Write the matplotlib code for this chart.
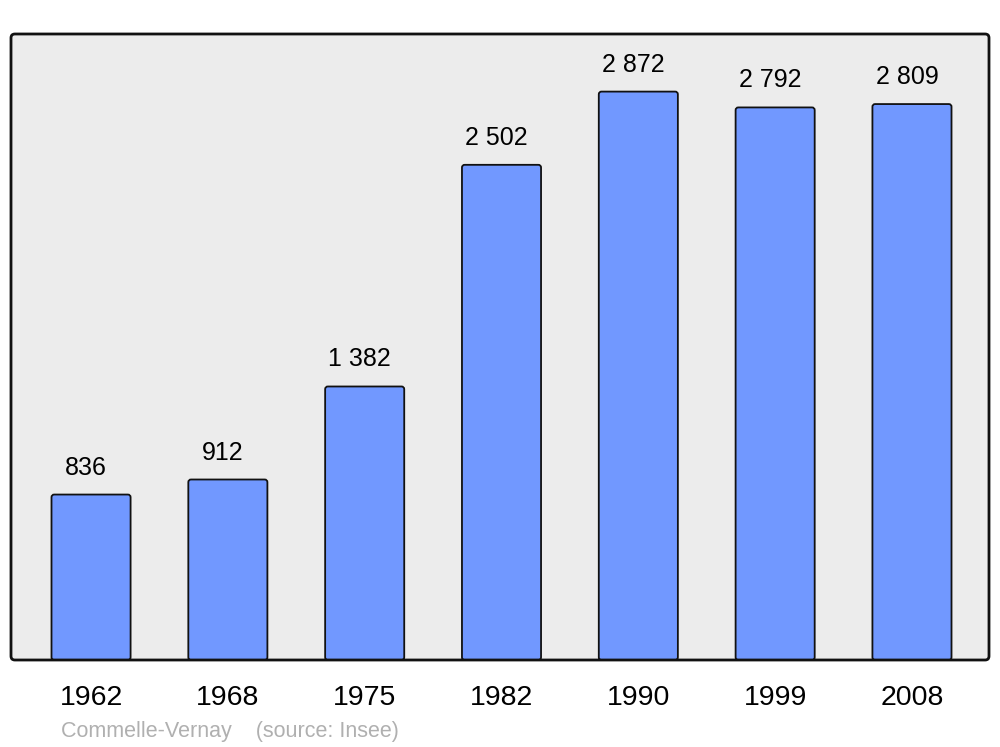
import matplotlib
matplotlib.use("Agg")
import matplotlib.pyplot as plt
from matplotlib.patches import FancyBboxPatch

plt.rcParams['font.family'] = ['Liberation Sans', 'DejaVu Sans']

years = ["1962", "1968", "1975", "1982", "1990", "1999", "2008"]
population = [836, 912, 1382, 2502, 2872, 2792, 2809]
value_labels = ["836", "912", "1 382", "2 502", "2 872", "2 792", "2 809"]
source_text = "Commelle-Vernay    (source: Insee)"

W, H = 1000, 747
fig = plt.figure(figsize=(W / 100, H / 100), dpi=100)
fig.patch.set_facecolor("white")
ax = fig.add_axes([11 / W, (H - 660) / H, 978 / W, 626 / H])
ax.patch.set_visible(False)
for s in ax.spines.values():
    s.set_visible(False)

XMIN, XMAX, YMAX = -0.585, 6.563, 3163
ax.set_xlim(XMIN, XMAX)
ax.set_ylim(0, YMAX)

bg = FancyBboxPatch((0, 0), 1, 1, boxstyle="round,pad=0,rounding_size=0.004",
                    mutation_aspect=978 / 626, transform=ax.transAxes,
                    facecolor="#ececec", edgecolor="none", zorder=0, clip_on=False)
ax.add_patch(bg)
frame = FancyBboxPatch((0, 0), 1, 1, boxstyle="round,pad=0,rounding_size=0.004",
                       mutation_aspect=978 / 626, transform=ax.transAxes,
                       facecolor="none", edgecolor="#111111", linewidth=2.0,
                       zorder=5, clip_on=False)
ax.add_patch(frame)

x = list(range(len(years)))
bars = ax.bar(x, population, width=0.578, color="#7198ff", edgecolor="#111111",
              linewidth=1.3, zorder=2)
# aspect between y and x data units per pixel
aspect = (YMAX / 626) / ((XMAX - XMIN) / 978)
for b in bars:
    b.set_visible(False)
    rp = FancyBboxPatch((b.get_x(), b.get_y()), b.get_width(), b.get_height(),
                        boxstyle="round,pad=0,rounding_size=0.02",
                        mutation_aspect=aspect, facecolor="#7198ff",
                        edgecolor="#111111", linewidth=1.3, zorder=2)
    ax.add_patch(rp)

for xi, v, lab in zip(x, population, value_labels):
    ax.annotate(lab, (xi, v), xytext=(-5, 27), textcoords="offset pixels",
                ha="center", va="center", fontsize=18, color="black")

ax.set_yticks([])
ax.set_xticks(x)
ax.set_xticklabels(years, fontsize=20.5)
ax.tick_params(axis="x", length=0, pad=18)

fig.text(61 / W, 1 - 731 / H, source_text, ha="left", va="center",
         fontsize=15.5, color="#b0b0b0")

fig.savefig("out.png", dpi=100)
